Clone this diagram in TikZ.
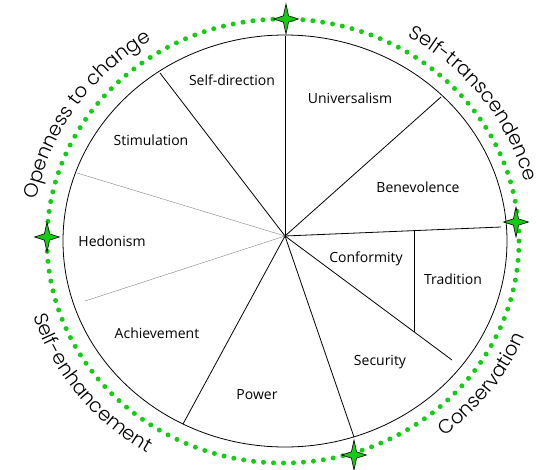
\documentclass[tikz,border=0pt]{standalone}
\usepackage{fontspec}
\setmainfont{Open Sans}
\newfontfamily\ringfont{Poppins}[UprightFont=* Light]
\usetikzlibrary{shapes.geometric,decorations.text}
\definecolor{ringgreen}{RGB}{20,204,20}
\tikzset{
  value/.style={font=\fontsize{14}{16}\selectfont},
  spoke/.style={black,line width=0.8pt},
  thinspoke/.style={gray,line width=0.4pt},
  sparkle/.style={star,star points=4,star point ratio=3.4,minimum size=25pt,
    inner sep=0pt,fill=ringgreen,draw=black,line width=0.6pt,yscale=1.2,transform shape},
  ringtext/.style={decorate,decoration={text along path,text align=center,
    text={|\ringfont\fontsize{19.5}{19.5}\selectfont|#1}}}
}

\begin{document}
\begin{tikzpicture}[x=1pt,y=1pt]
            \useasboundingbox (-283,-228) rectangle (254,241);

            \draw[ringgreen,line width=5pt,line cap=round,dash pattern=on 0pt off 10pt] (0,0) ellipse [x radius=236,y radius=222];
            \draw[line width=0.8pt] (2,0) ellipse [x radius=222,y radius=206];

            \coordinate (O) at (2,5);
            \coordinate (top) at (2,205);
            \coordinate (dir) at (-123,168);
            \coordinate (stim) at (-206,68);
            \coordinate (hed) at (-198,-60);
            \coordinate (ach) at (-100,-183);
            \coordinate (pow) at (71,-196);
            \coordinate (sec) at (169,-119);
            \coordinate (conf) at (218,14);
            \coordinate (ben) at (158,144);
            \coordinate (trtop) at (131,10.4);
            \coordinate (trbot) at (131,-90.8);

            \foreach \p in {top,dir,ach,pow,sec,conf,ben}
                \draw[spoke] (O) -- (\p);
            \draw[thinspoke] (O) -- (stim);
            \draw[thinspoke] (O) -- (hed);
            \draw[spoke] (trtop) -- (trbot);

            \node[value] (selfdir) at (-51,161) {Self-direction};
            \node[value] (univ) at (67,143) {Universalism};
            \node[value] (stimul) at (-132,101) {Stimulation};
            \node[value] (benev) at (135,54) {Benevolence};
            \node[value] (hedon) at (-171,0) {Hedonism};
            \node[value] (confor) at (83,-18) {Conformity};
            \node[value] (trad) at (170,-38) {Tradition};
            \node[value] (achiev) at (-126,-92) {Achievement};
            \node[value] (power) at (-26,-154) {Power};
            \node[value] (secur) at (97,-121) {Security};

            \node[sparkle] (startop) at (3,222) {};
            \node[sparkle] (starleft) at (-236,4) {};
            \node[sparkle] (starright) at (233,19) {};
            \node[sparkle] (starbottom) at (71,-214) {};

            % group names round the ring
            \path[ringtext={Openness to change}] (176:250 and 236) arc[start angle=176,end angle=116,x radius=250,y radius=236];
            \path[ringtext={Self-transcendence}] (72:250 and 236) arc[start angle=72,end angle=2,x radius=250,y radius=236];
            \path[ringtext={Self-enhancement}] (188:262 and 248) arc[start angle=188,end angle=248,x radius=262,y radius=248];
            \path[ringtext={Conservation}] (-67:262 and 248) arc[start angle=-67,end angle=-7,x radius=262,y radius=248];
        \end{tikzpicture}
\end{document}
